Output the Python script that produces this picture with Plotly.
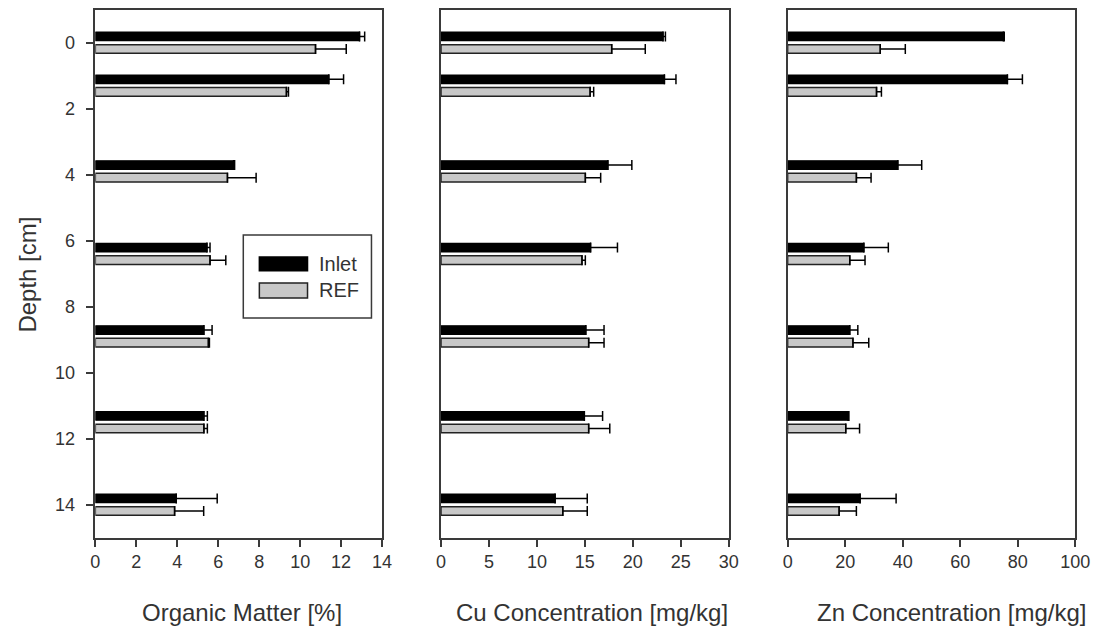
import plotly.graph_objects as go

# Sampling depths (cm) and measured values, mean + one-sided error
depth = [0, 1.3, 3.9, 6.4, 8.9, 11.5, 14.0]

om_inlet = [12.9, 11.4, 6.75, 5.45, 5.3, 5.3, 3.95]
om_inlet_err = [0.25, 0.72, 0.05, 0.15, 0.4, 0.17, 2.0]
om_ref = [10.75, 9.33, 6.45, 5.6, 5.52, 5.3, 3.87]
om_ref_err = [1.5, 0.1, 1.4, 0.77, 0.05, 0.17, 1.42]

cu_inlet = [23.15, 23.3, 17.4, 15.6, 15.1, 14.95, 11.9]
cu_inlet_err = [0.25, 1.2, 2.5, 2.8, 1.9, 1.9, 3.35]
cu_ref = [17.8, 15.55, 15.05, 14.7, 15.4, 15.4, 12.7]
cu_ref_err = [3.5, 0.37, 1.6, 0.35, 1.6, 2.2, 2.55]

zn_inlet = [75.0, 76.4, 38.3, 26.5, 21.6, 21.0, 25.2]
zn_inlet_err = [0.3, 5.2, 8.3, 8.5, 2.8, 0.3, 12.5]
zn_ref = [32.2, 30.9, 23.9, 21.6, 22.7, 20.2, 17.9]
zn_ref_err = [8.7, 1.7, 5.1, 5.3, 5.5, 4.8, 6.0]

series_names = ["Inlet", "REF"]
x_titles = ["Organic Matter [%]", "Cu Concentration [mg/kg]", "Zn Concentration [mg/kg]"]
x_ranges = [[0, 14], [0, 30], [0, 100]]
x_dticks = [2, 5, 20]
y_ticks = [0, 2, 4, 6, 8, 10, 12, 14]

panels = [
    (om_inlet, om_inlet_err, om_ref, om_ref_err),
    (cu_inlet, cu_inlet_err, cu_ref, cu_ref_err),
    (zn_inlet, zn_inlet_err, zn_ref, zn_ref_err),
]

W, H = 1109, 630
x_domains = [[92 / W, 384 / W], [444 / W, 737 / W], [797 / W, 1090 / W]]
y_domain = [(H - 538) / H, (H - 10) / H]

FONT = "Liberation Sans, Arial, sans-serif"
TEXT = "#333333"
LINE = "#3a3a3a"
GREY = "#c8c8c8"

fig = go.Figure()

for i, (inl, inl_e, ref, ref_e) in enumerate(panels):
    xa = "x" if i == 0 else f"x{i + 1}"
    ya = "y" if i == 0 else f"y{i + 1}"
    fig.add_trace(go.Bar(
        y=depth, x=inl, orientation="h", name=series_names[0],
        xaxis=xa, yaxis=ya, width=0.26, offset=-0.33,
        marker=dict(color="black", line=dict(color="black", width=1.2)),
        error_x=dict(type="data", array=inl_e, arrayminus=[0] * len(inl_e),
                     symmetric=False, color="black", thickness=1.5, width=5),
        showlegend=False,
    ))
    fig.add_trace(go.Bar(
        y=depth, x=ref, orientation="h", name=series_names[1],
        xaxis=xa, yaxis=ya, width=0.26, offset=0.05,
        marker=dict(color=GREY, line=dict(color="#222222", width=1.5)),
        error_x=dict(type="data", array=ref_e, arrayminus=[0] * len(ref_e),
                     symmetric=False, color="black", thickness=1.5, width=5),
        showlegend=False,
    ))

    xkey = "xaxis" if i == 0 else f"xaxis{i + 1}"
    ykey = "yaxis" if i == 0 else f"yaxis{i + 1}"
    fig.layout[xkey] = dict(
        domain=x_domains[i], range=x_ranges[i], dtick=x_dticks[i], tick0=0,
        anchor=ya, showline=True, mirror=True, linecolor=LINE, linewidth=1.5,
        ticks="outside", ticklen=7, tickwidth=1.5, tickcolor=LINE,
        showgrid=False, zeroline=False,
        tickfont=dict(family=FONT, size=18, color=TEXT),
    )
    fig.layout[ykey] = dict(
        domain=y_domain, range=[15, -1], anchor=xa,
        tickvals=y_ticks, showline=True, mirror=True, linecolor=LINE, linewidth=1.5,
        ticks="outside" if i == 0 else "", ticklen=8, tickwidth=1.5, tickcolor=LINE,
        showticklabels=(i == 0), ticklabelstandoff=7,
        showgrid=False, zeroline=False,
        tickfont=dict(family=FONT, size=18, color=TEXT),
    )

annotations = []
title_x = [241, 598, 964]
for i, t in enumerate(x_titles):
    annotations.append(dict(
        text=t, x=title_x[i] / W, y=(H - 612) / H, xref="paper", yref="paper",
        xanchor="center", yanchor="middle", showarrow=False,
        font=dict(family=FONT, size=24, color=TEXT),
    ))
annotations.append(dict(
    text="Depth [cm]", x=22 / W, y=(H - 275) / H, xref="paper", yref="paper",
    xanchor="center", yanchor="middle", showarrow=False, textangle=-90,
    font=dict(family=FONT, size=24, color=TEXT),
))

# Legend drawn inside the first panel
legend_rows = [(series_names[0], "black", "black", 0.506, 0.532, 0.519),
               (series_names[1], GREY, "#222222", 0.4545, 0.483, 0.469)]
shapes = [dict(type="rect", xref="x domain", yref="y domain",
               x0=0.516, x1=0.963, y0=0.4167, y1=0.574,
               line=dict(color=LINE, width=1.5), fillcolor="white")]
for name, fill, edge, y0, y1, yt in legend_rows:
    shapes.append(dict(type="rect", xref="x domain", yref="y domain",
                       x0=0.572, x1=0.740, y0=y0, y1=y1,
                       line=dict(color=edge, width=1.5), fillcolor=fill))
    annotations.append(dict(
        text=name, x=0.774, y=yt, xref="x domain", yref="y domain",
        xanchor="left", yanchor="middle", showarrow=False,
        font=dict(family=FONT, size=20, color=TEXT),
    ))

fig.update_layout(
    width=W, height=H, autosize=False, margin=dict(l=0, r=0, t=0, b=0),
    paper_bgcolor="white", plot_bgcolor="white",
    barmode="overlay", showlegend=False,
    annotations=annotations, shapes=shapes,
)

fig.write_html("out.html", config={"responsive": False})
